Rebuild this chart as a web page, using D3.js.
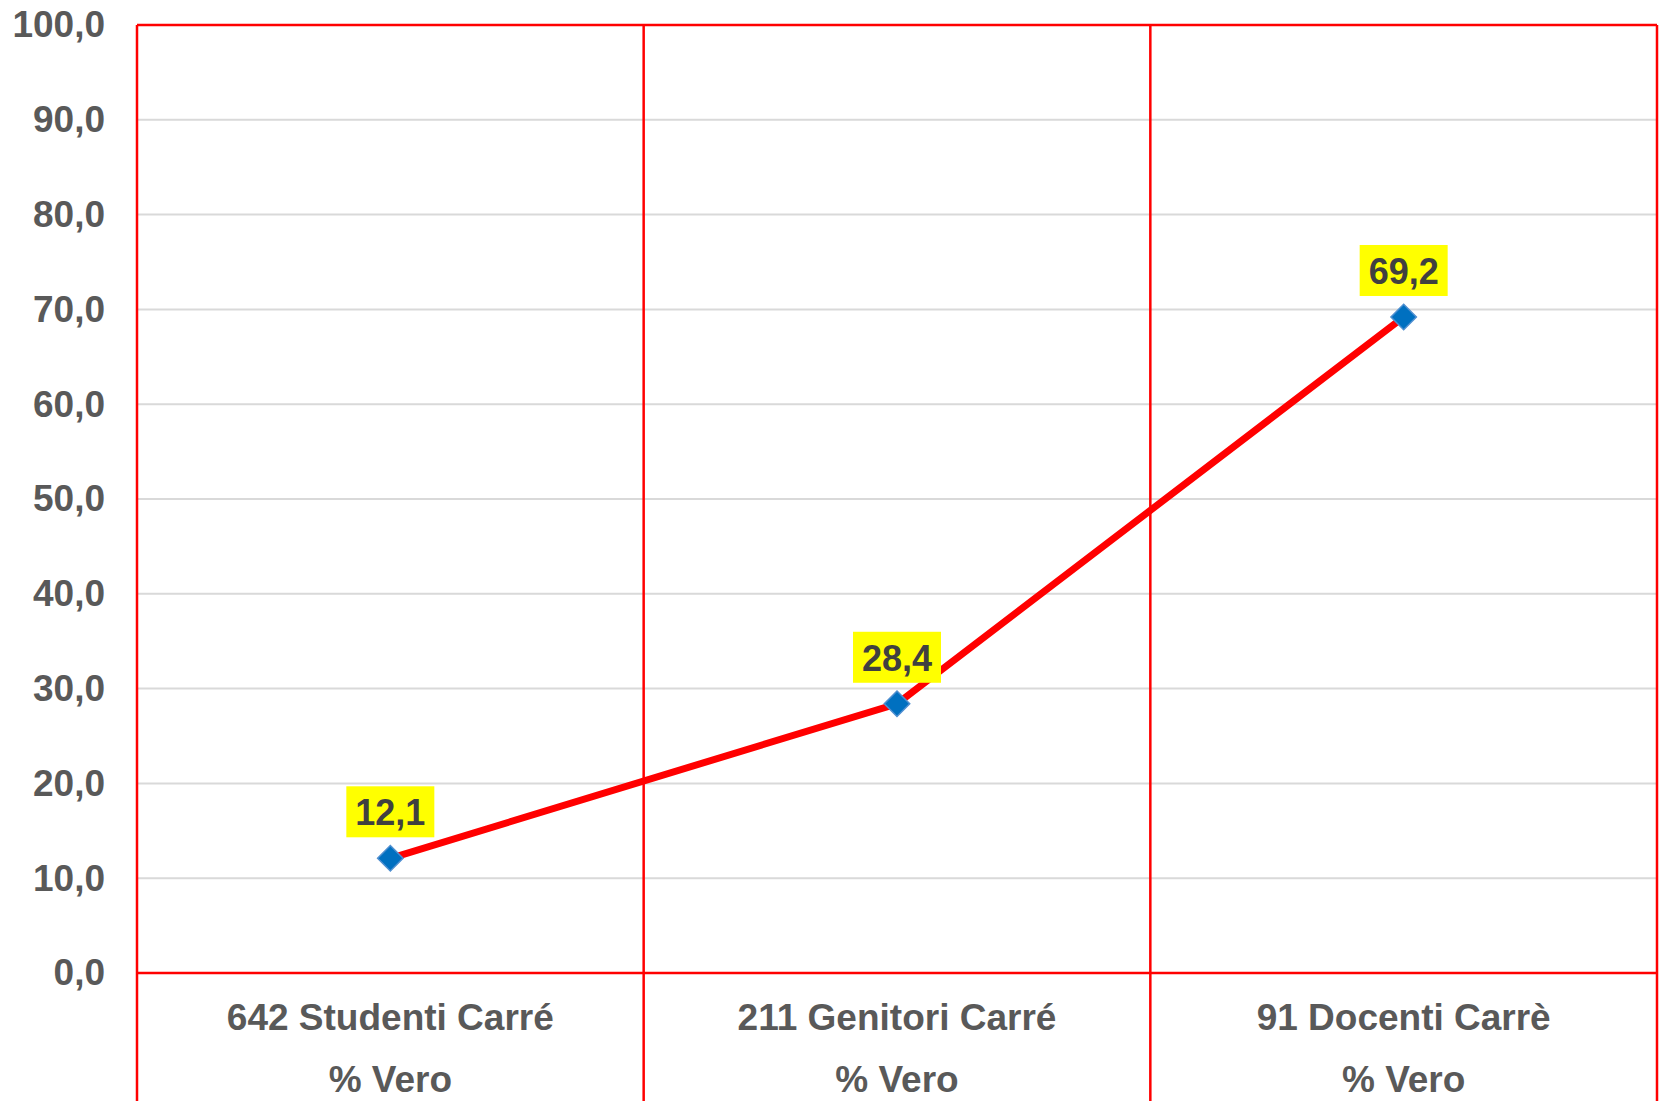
<!DOCTYPE html>
<html>
<head>
<meta charset="utf-8">
<script src="https://cdn.jsdelivr.net/npm/d3@7"></script>
<style>
  html, body { margin: 0; padding: 0; background: #fff; }
  svg { display: block; font-family: "Liberation Sans", Arial, sans-serif; }
</style>
</head>
<body>
<div id="chart"></div>
<script>
const categories = ["642 Studenti Carré", "211 Genitori Carré", "91 Docenti Carrè"]
const subLabels = ["% Vero", "% Vero", "% Vero"]
const values = [12.1, 28.4, 69.2]
const yTicks = [0, 10, 20, 30, 40, 50, 60, 70, 80, 90, 100]

const width = 1663
const height = 1101
const margin = { top: 25, right: 6, bottom: 128, left: 137 }
const innerW = width - margin.left - margin.right
const innerH = height - margin.top - margin.bottom

const svg = d3.select("#chart")
  .append("svg")
  .attr("width", width)
  .attr("height", height)

const g = svg.append("g")
  .attr("transform", `translate(${margin.left},${margin.top})`)

const x = d3.scaleBand().domain(categories).range([0, innerW]).padding(0)
const y = d3.scaleLinear().domain([0, 100]).range([innerH, 0])
const fmt = v => d3.format(".1f")(v).replace(".", ",")

// gridlines
g.append("g")
  .selectAll("line")
  .data(yTicks.filter(t => t > 0 && t < 100))
  .join("line")
  .attr("x1", 0).attr("x2", innerW)
  .attr("y1", d => y(d)).attr("y2", d => y(d))
  .attr("stroke", "#d9d9d9").attr("stroke-width", 2)

// y tick labels
g.append("g")
  .call(d3.axisLeft(y).tickValues(yTicks).tickFormat(fmt).tickSize(0).tickPadding(32))
  .call(a => a.select(".domain").remove())
  .call(a => a.selectAll(".tick text")
    .attr("font-size", 37).attr("font-weight", "bold").attr("fill", "#595959")
    .attr("font-family", "Liberation Sans, Arial, sans-serif"))

// red frame: top, zero line, left/right edges and category dividers (running to the bottom)
const frame = g.append("g").attr("stroke", "#ff0000").attr("stroke-width", 2.5).attr("fill", "none")
frame.append("line").attr("x1", 0).attr("x2", innerW).attr("y1", 0).attr("y2", 0)
frame.append("line").attr("x1", 0).attr("x2", innerW).attr("y1", y(0)).attr("y2", y(0))
const dividers = [0, ...categories.map(c => x(c) + x.bandwidth())]
frame.selectAll("line.div")
  .data(dividers)
  .join("line")
  .attr("class", "div")
  .attr("x1", d => d).attr("x2", d => d)
  .attr("y1", 0).attr("y2", height - margin.top)

// category labels
const xc = d => x(d) + x.bandwidth() / 2
const labels = g.append("g")
  .attr("font-size", 37).attr("font-weight", "bold").attr("fill", "#595959")
  .attr("text-anchor", "middle")
labels.selectAll("text.cat")
  .data(categories)
  .join("text")
  .attr("class", "cat")
  .attr("x", d => xc(d))
  .attr("y", innerH + 57)
  .text(d => d)
labels.selectAll("text.sub")
  .data(categories)
  .join("text")
  .attr("class", "sub")
  .attr("x", d => xc(d))
  .attr("y", innerH + 119)
  .text((d, i) => subLabels[i])

// line
const pts = categories.map((c, i) => ({ c, v: values[i] }))
const line = d3.line().x(d => xc(d.c)).y(d => y(d.v))
g.append("path")
  .datum(pts)
  .attr("d", line)
  .attr("fill", "none")
  .attr("stroke", "#ff0000")
  .attr("stroke-width", 7)

// markers
g.append("g")
  .selectAll("rect")
  .data(pts)
  .join("rect")
  .attr("x", -9).attr("y", -9)
  .attr("width", 18).attr("height", 18)
  .attr("transform", d => `translate(${xc(d.c)},${y(d.v)}) rotate(45)`)
  .attr("fill", "#0070c0")
  .attr("stroke", "#4f8fd0")
  .attr("stroke-width", 1.5)

// data labels
const dl = g.append("g").selectAll("g").data(pts).join("g")
  .attr("transform", d => `translate(${xc(d.c)},${y(d.v)})`)
dl.append("rect")
  .attr("x", -44).attr("y", -72)
  .attr("width", 88).attr("height", 51)
  .attr("fill", "#ffff00")
dl.append("text")
  .attr("text-anchor", "middle")
  .attr("y", -33)
  .attr("font-size", 36).attr("font-weight", "bold").attr("fill", "#404040")
  .text(d => fmt(d.v))
</script>
</body>
</html>
